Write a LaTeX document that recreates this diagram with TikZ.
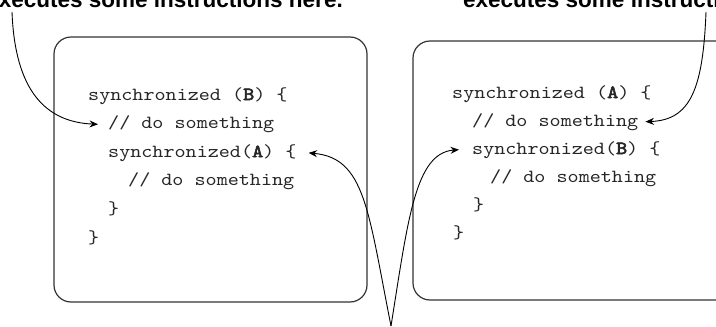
\documentclass[tikz,border=0pt]{standalone}
\usepackage{fontspec}
\setsansfont{Liberation Sans}
\newfontfamily\codefont[FakeStretch=1.14, BoldFont=lmmono10-regular.otf, BoldFeatures={FakeBold=3}]{lmmono10-regular.otf}
\usetikzlibrary{arrows.meta}
\begin{document}
\begin{tikzpicture}[x=1pt,y=-1pt,
  code/.style={anchor=base west, inner sep=0pt, font=\codefont\fontsize{18.5}{20}\selectfont, text=black!85},
  lbl/.style={inner sep=0pt, font=\sffamily\bfseries\fontsize{22.5}{24}\selectfont},
  box/.style={draw=black!80, line width=1.2pt, rounded corners=17pt},
  conn/.style={line width=0.9pt, -{Stealth[length=8.5pt,width=7pt]}}]
\useasboundingbox (0,0) rectangle (716,327);
\clip (0,0) rectangle (716,327);
% labels (cropped at top, as in the reference)
\node[lbl, anchor=base east] (lblL) at (343,7.5) {executes some instructions here.};
\node[lbl, anchor=base west] (lblR) at (463,7.5) {executes some instructions here.};
% boxes
\draw[box] (54,37) rectangle (367,302);
\draw[box] (413,41) rectangle (770,300);
% left code
\node[code] (L1) at (88,100)   {synchronized (\textbf{B}) \{};
\node[code] (L2) at (108,128.6) {// do something};
\node[code] (L3) at (108,157.2) {synchronized(\textbf{A}) \{};
\node[code] (L4) at (128,185.8) {// do something};
\node[code] (L5) at (108,214.4) {\}};
\node[code] (L6) at (88,243)   {\}};
% right code
\node[code] (R1) at (452,98)  {synchronized (\textbf{A}) \{};
\node[code] (R2) at (472,126) {// do something};
\node[code] (R3) at (472,154) {synchronized(\textbf{B}) \{};
\node[code] (R4) at (490,182) {// do something};
\node[code] (R5) at (473,210) {\}};
\node[code] (R6) at (453,238) {\}};
% connectors
\coordinate (s1) at (12,12);
\coordinate (s2) at (706,12);
\coordinate (tip) at (391,326);
\draw[conn] (s1) .. controls (15,90) and (45,122) .. ([xshift=-10pt]L2.west);
\draw[conn] (s2) .. controls (703,90) and (690,120) .. ([xshift=7pt]R2.east);
\draw[conn] (tip) .. controls (368,210) and (365,158) .. ([xshift=12pt]L3.east);
\draw[conn] (tip) .. controls (408,220) and (415,153) .. ([xshift=-13pt]R3.west);
\end{tikzpicture}
\end{document}
